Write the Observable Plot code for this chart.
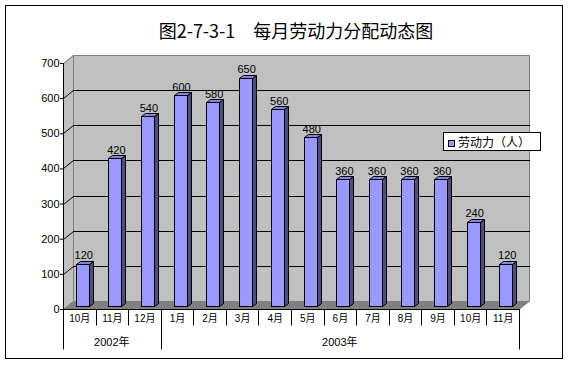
<!DOCTYPE html>
<html>
<head>
<meta charset="utf-8">
<script src="https://cdn.jsdelivr.net/npm/d3@7"></script>
<script src="https://cdn.jsdelivr.net/npm/@observablehq/plot@0.6"></script>
<style>
  body { margin: 0; background: #fff; }
  #wrap { position: relative; width: 570px; height: 365px; overflow: hidden; background: #fff; }
  #border { position: absolute; left: 5px; top: 5px; width: 558px; height: 354px; border: 1px solid #000; box-sizing: border-box; }
  #title { position: absolute; left: 0; width: 592px; top: 21px; text-align: center; font: 18px/18px "Noto Sans CJK SC", sans-serif; color: #000; white-space: pre; }
  #chart { position: absolute; left: 0; top: 45px; }
  #legend { position: absolute; left: 443px; top: 132px; width: 98px; height: 19px; border: 1px solid #000; box-sizing: border-box; background: #fff; }
  #legend .sw { position: absolute; left: 4px; top: 7px; width: 7px; height: 7px; border: 1px solid #000; box-sizing: border-box; }
  #legend .lb { position: absolute; left: 14px; top: 1px; font: 12px/16px "Noto Sans CJK SC", sans-serif; color: #000; white-space: nowrap; }
</style>
</head>
<body>
<div id="wrap">
  <div id="border"></div>
  <div id="title"></div>
  <div id="chart"></div>
  <div id="legend"><div class="sw"></div><div class="lb"></div></div>
</div>
<script>
// ---- data ----
const title = "图2-7-3-1　每月劳动力分配动态图";
const seriesName = "劳动力（人）";
const months = ["10月","11月","12月","1月","2月","3月","4月","5月","6月","7月","8月","9月","10月","11月"];
const monthYears = ["2002年","2002年","2002年","2003年","2003年","2003年","2003年","2003年","2003年","2003年","2003年","2003年","2003年","2003年"];
const workers = [120, 420, 540, 600, 580, 650, 560, 480, 360, 360, 360, 360, 240, 120];
const yearGroups = ["2002年", "2003年"];
const yTicks = [0, 100, 200, 300, 400, 500, 600, 700];

// ---- styles ----
const WALL = "#C0C0C0", EDGE = "#808080", FLOOR = "#808080";
const FRONT = "#9999FF", SIDE = "#4D4D80", TOP = "#8484E0";
const DX = 10, DY = -8;          // wall depth
const BX = 3, BY = -3;           // bar placement inside depth
const SX = 4, SY = -3;           // bar depth
const BAR_FRAC = 0.4;
const FONT = "'Liberation Sans','Noto Sans CJK SC',sans-serif";

const rows = months.map((m, i) => ({i, month: m, year: monthYears[i], value: workers[i]}));
const groups = yearGroups.map(yr => {
  const idx = rows.filter(r => r.year === yr).map(r => r.i);
  return {year: yr, first: idx[0], last: idx[idx.length - 1]};
});

document.getElementById("title").textContent = title;
document.querySelector("#legend .lb").textContent = seriesName;
document.querySelector("#legend .sw").style.background = FRONT;

const NS = "http://www.w3.org/2000/svg";
function el(tag, attrs, parent) {
  const e = document.createElementNS(NS, tag);
  for (const k in attrs) e.setAttribute(k, attrs[k]);
  if (parent) parent.appendChild(e);
  return e;
}

function wallsMark(index, scales) {
  const {x, y} = scales;
  const g = el("g", {});
  const [x0, x1] = x.range();
  const X0 = Math.round(x0), X1 = Math.round(x1);
  const ymax = d3.max(yTicks);
  const Y0 = Math.round(y(0)), YT = Math.round(y(ymax));
  // side wall
  el("polygon", {points: `${X0},${Y0} ${X0},${YT} ${X0 + DX},${YT + DY} ${X0 + DX},${Y0 + DY}`, fill: WALL, stroke: "none"}, g);
  // back wall
  el("rect", {x: X0 + DX + 0.5, y: YT + DY + 0.5, width: X1 - X0, height: Y0 - YT, fill: WALL, stroke: EDGE}, g);
  // side wall top edge
  el("line", {x1: X0 + 0.5, y1: YT + 0.5, x2: X0 + DX + 0.5, y2: YT + DY + 0.5, stroke: EDGE}, g);
  // floor
  el("polygon", {points: `${X0},${Y0 + 0.5} ${X0 + DX},${Y0 + DY + 0.5} ${X1 + DX},${Y0 + DY + 0.5} ${X1},${Y0 + 0.5}`, fill: FLOOR, stroke: FLOOR}, g);
  // gridlines
  for (const t of yTicks) {
    if (t <= 0 || t >= ymax) continue;
    const yy = Math.round(y(t)) + 0.5;
    el("line", {x1: X0 + DX, y1: yy + DY, x2: X1 + DX + 1, y2: yy + DY, stroke: "#000"}, g);
    el("line", {x1: X0 + 0.5, y1: yy, x2: X0 + DX + 0.5, y2: yy + DY, stroke: "#000"}, g);
  }
  // axis lines
  el("line", {x1: X0 + 0.5, y1: YT, x2: X0 + 0.5, y2: Y0 + 0.5, stroke: "#000"}, g);
  el("line", {x1: X0, y1: Y0 + 0.5, x2: X1 + 1, y2: Y0 + 0.5, stroke: "#000"}, g);
  return g;
}

function barsMark(index, scales) {
  const {x, y} = scales;
  const g = el("g", {stroke: "#000", "stroke-width": 1});
  const bw = x.bandwidth();
  const w = Math.round(bw * BAR_FRAC);
  for (const r of rows) {
    const xl = Math.round(x(r.i) + (bw - w) / 2 + BX) + 0.5;
    const xr = xl + w;
    const yb = Math.round(y(0) + BY) + 0.5;
    const yt = Math.round(y(r.value) + BY) + 0.5;
    el("polygon", {points: `${xr},${yb} ${xr + SX},${yb + SY} ${xr + SX},${yt + SY} ${xr},${yt}`, fill: SIDE}, g);
    el("polygon", {points: `${xl},${yt} ${xl + SX},${yt + SY} ${xr + SX},${yt + SY} ${xr},${yt}`, fill: TOP}, g);
    el("rect", {x: xl, y: yt, width: w, height: yb - yt, fill: FRONT}, g);
  }
  return g;
}

function catAxisMark(index, scales) {
  const {x, y} = scales;
  const g = el("g", {});
  const bw = x.bandwidth();
  const Y0 = Math.round(y(0)) + 0.5;
  for (let i = 0; i <= rows.length; i++) {
    const xx = Math.round(i < rows.length ? x(i) : x(rows.length - 1) + bw) + 0.5;
    const edge = i === 0 || i === rows.length || rows[i].year !== rows[i - 1].year;
    el("line", {x1: xx, x2: xx, y1: Y0, y2: Y0 + (edge ? 40 : 16), stroke: "#000"}, g);
  }
  for (const grp of groups) {
    const xa = x(grp.first), xb = x(grp.last) + bw;
    const t = el("text", {x: (xa + xb) / 2, y: Y0 + 33, "text-anchor": "middle", dy: "0.35em",
      "font-family": FONT, "font-size": 11, fill: "#000"}, g);
    t.textContent = grp.year;
  }
  return g;
}

const chart = Plot.plot({
  width: 570,
  height: 320,
  marginLeft: 63,
  marginRight: 51,
  marginTop: 18,
  marginBottom: 56,
  style: {fontFamily: FONT, fontSize: "11px", color: "#000", background: "transparent", overflow: "visible"},
  x: {type: "band", domain: rows.map(r => r.i), padding: 0, round: false, axis: null},
  y: {domain: [0, d3.max(yTicks)], ticks: yTicks, tickSize: 3, tickPadding: 1, label: null, tickFormat: d => `${d}`},
  marks: [
    wallsMark,
    barsMark,
    Plot.text(rows, {x: "i", y: "value", text: d => `${d.value}`, dx: 4, dy: -8, lineAnchor: "bottom",
      fontSize: 11, fontFamily: FONT, fill: "#000"}),
    Plot.text(rows, {x: "i", y: d => 0, text: "month", dy: 9, fontSize: 10, fontFamily: FONT, fill: "#000"}),
    catAxisMark
  ]
});
document.getElementById("chart").appendChild(chart);
</script>
</body>
</html>
